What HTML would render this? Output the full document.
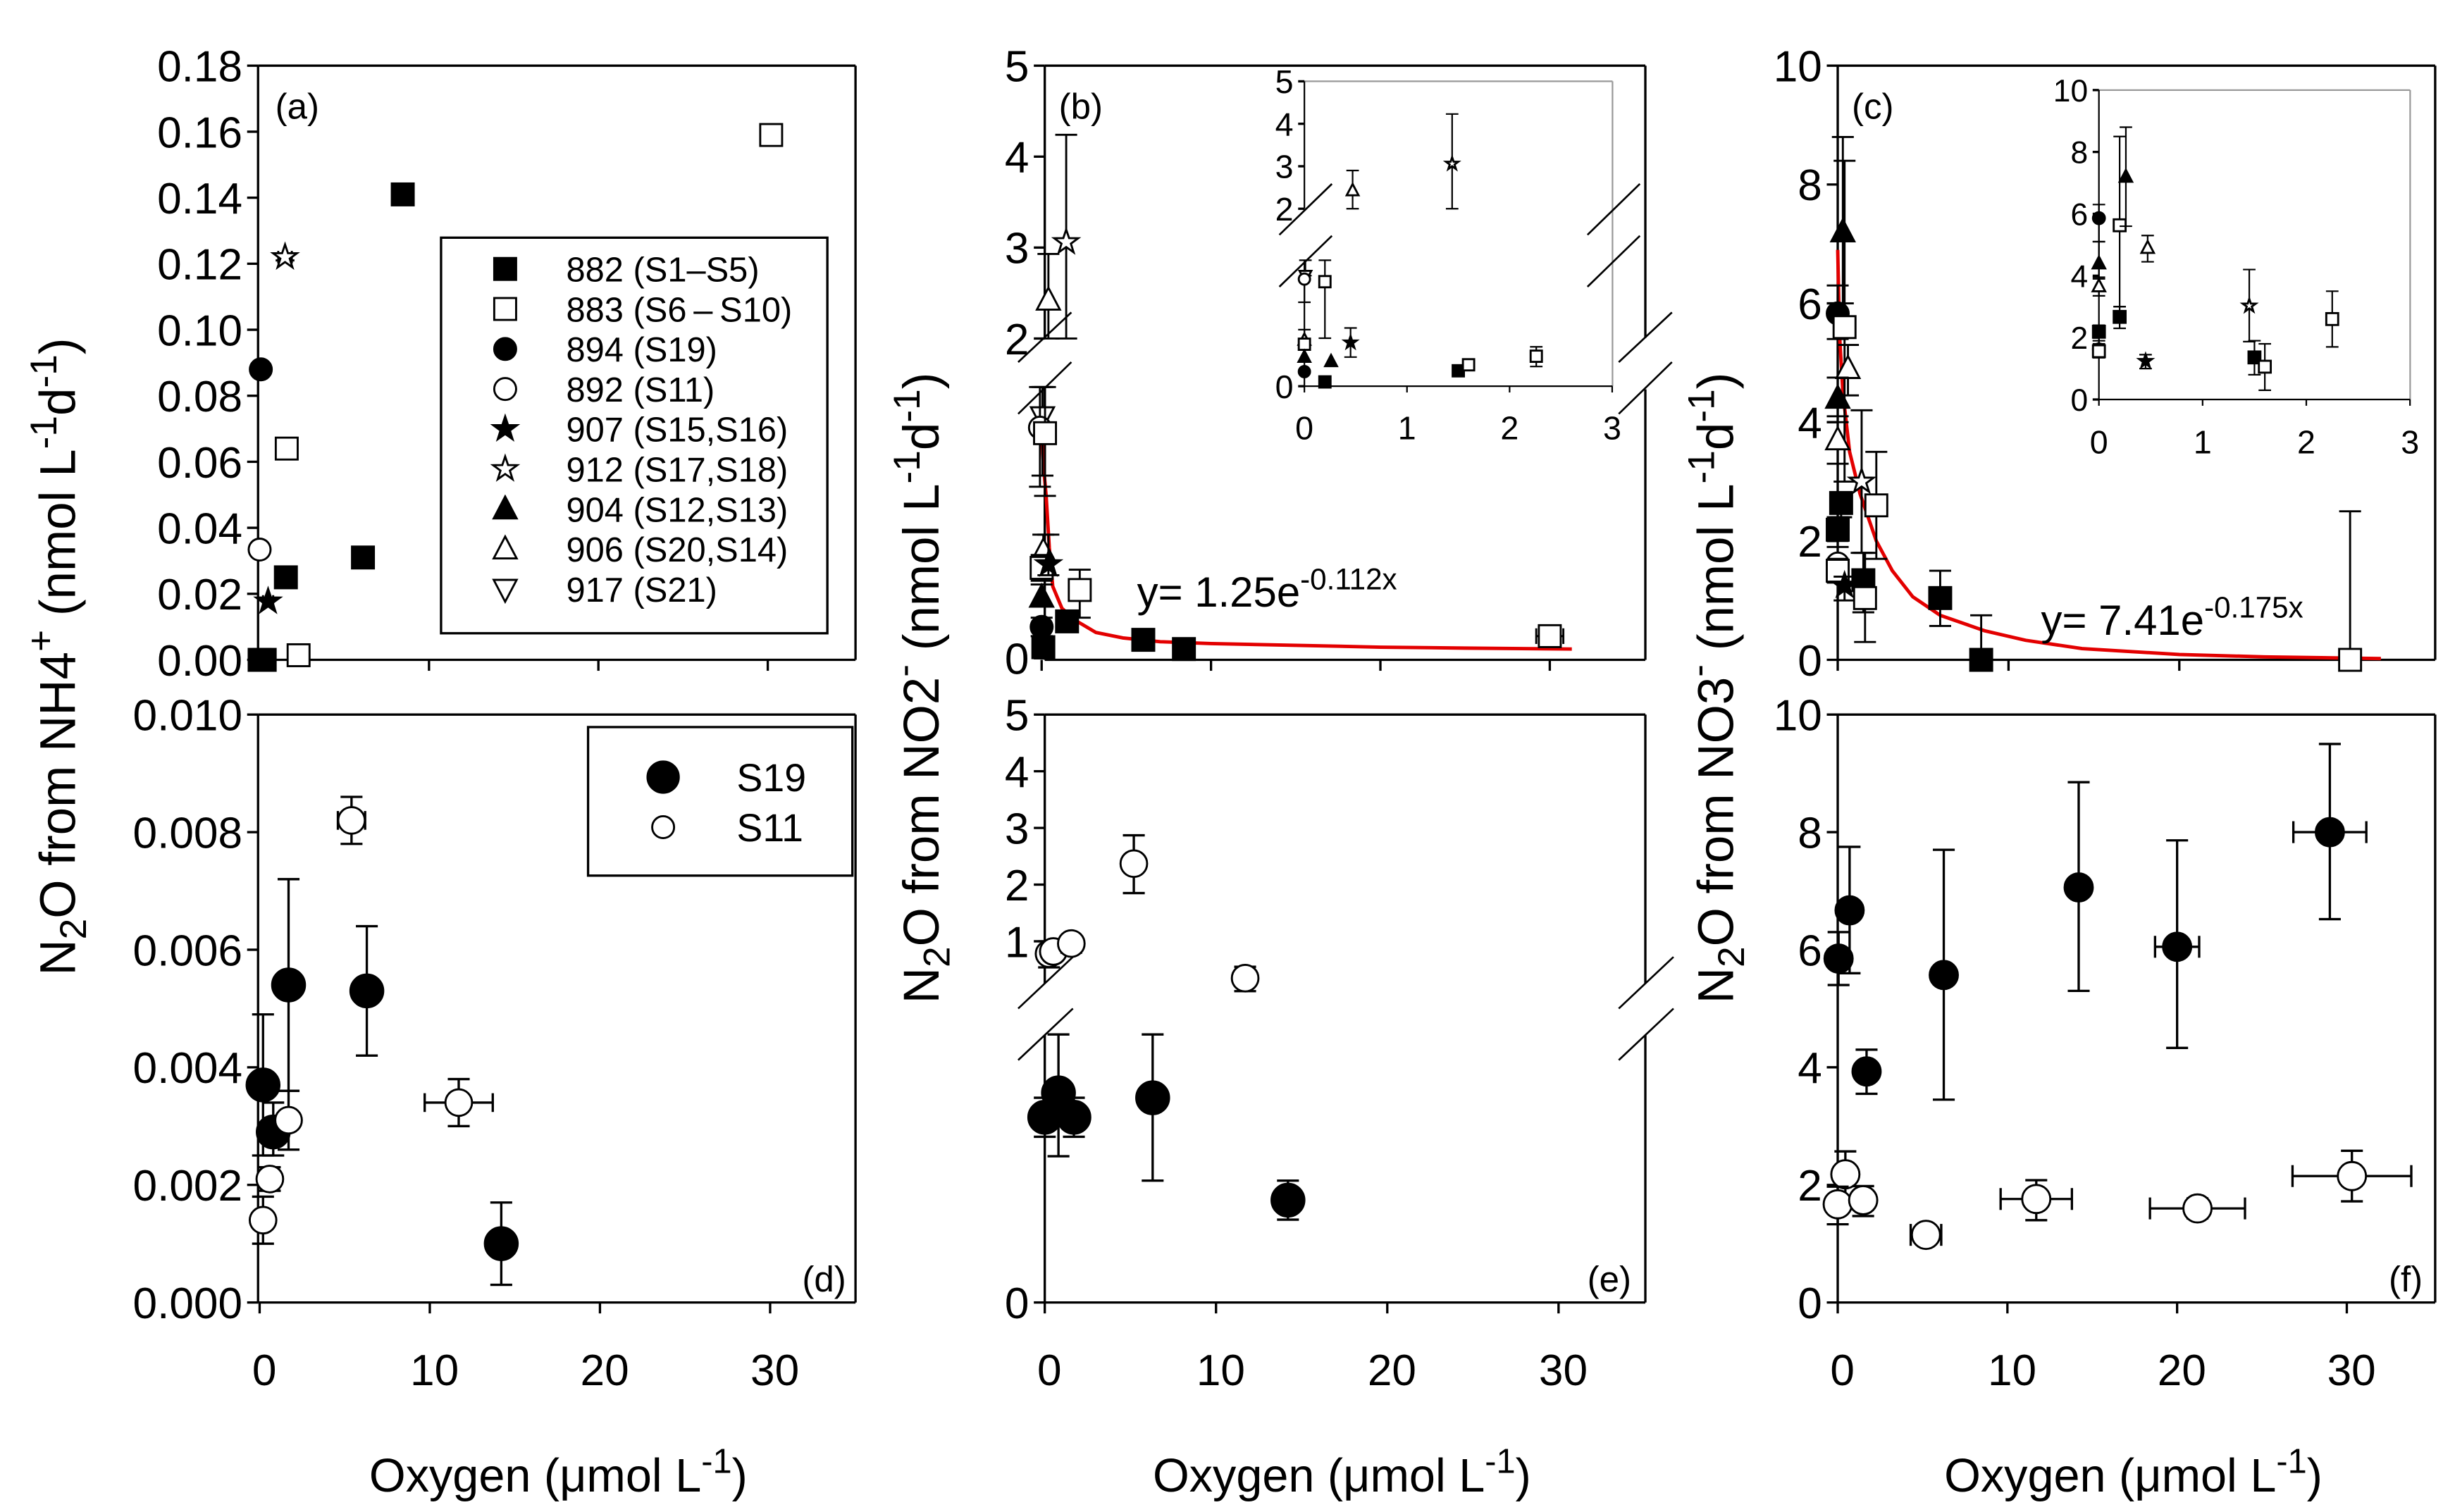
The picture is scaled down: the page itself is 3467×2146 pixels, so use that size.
<!DOCTYPE html>
<html><head><meta charset="utf-8">
<style>
html,body{margin:0;padding:0;background:#fff;}
svg{display:block;}
text{font-family:"Liberation Sans",Arial,sans-serif;fill:#000;}
</style></head>
<body>
<svg id="fig" xmlns="http://www.w3.org/2000/svg" width="3467" height="2146" viewBox="0 0 1562 967" preserveAspectRatio="none">
<rect x="0" y="0" width="1562" height="967" fill="#fff"/>
</svg>
<script>
// ---------- DATA ----------
const symSeries = ['882','883','894','892','907','912','904','906','917','S19','S11'];
const symKinds  = ['sq','sqo','ci','cio','st','sto','tr','tro','trdo','ci','cio'];
const legendLabels = ['882 (S1\u2013S5)','883 (S6\u2009\u2013\u2009S10)','894 (S19)','892 (S11)','907 (S15,S16)','912 (S17,S18)','904 (S12,S13)','906 (S20,S14)','917 (S21)'];

// panel a
const aSer=['882','882','882','882','882','883','883','883','894','892','907','912'];
const aX=[0,0.3,1.55,6.1,8.45,2.3,1.6,30.2,0.07,0,0.5,1.5];
const aY=[0,0,0.025,0.031,0.141,0.0014,0.064,0.159,0.088,0.0334,0.0177,0.122];
const aEy=[0,0,0,0,0,0.001,0.001,0.0015,0.001,0.001,0,0.001];
const aEx=[0,0,0,0,0,0.4,0.4,0.5,0.4,0.4,0.3,0.4];
const aYTicks=[0,0.02,0.04,0.06,0.08,0.10,0.12,0.14,0.16,0.18];
const aYLabels=['0.00','0.02','0.04','0.06','0.08','0.10','0.12','0.14','0.16','0.18'];
const xTicks=[0,10,20,30];

// panel b (main)
const bSer=['906','912','917','892','883','906','883','907','904','894','882','882','883','882','882','883'];
const bX=[0.4,1.45,0.05,-0.1,0.2,0.1,0,0.4,0,0,0.1,1.5,2.25,6.0,8.4,30];
const bY=[2.42,3.06,1.31,1.25,1.22,0.58,0.49,0.51,0.33,0.17,0.06,0.2,0.37,0.10,0.05,0.12];
const bHi=[2.93,4.24,1.47,1.47,1.47,0.67,0.56,0.67,0.40,0.22,0.06,0.25,0.48,0.10,0.05,0.14];
const bLo=[2.0,2.0,0.99,0.93,0.88,0.48,0.42,0.45,0.28,0.12,0.06,0.16,0.22,0.10,0.05,0.10];
const bEx=[0,0,0,0,0,0,0,0,0,0,0,0,0,0,0,0.8];
const bCurveX=[0,0.1,0.27,0.45,0.66,1.2,2.1,3.2,4.8,7,10,15,20,25,31.3];
const bCurveY=[1.25,1.05,0.88,0.6,0.39,0.27,0.2,0.14,0.11,0.09,0.08,0.07,0.06,0.055,0.05];
const bUpTicks=[2,3,4,5];

// panel b inset
const biSer=['906','912','917','892','883','906','883','904','894','904','907','882','882','883','883'];
const biX=[0.47,1.44,0.01,0,0.2,0,0,0,0,0.26,0.45,0.2,1.5,1.6,2.26];
const biY=[2.43,3.06,1.29,1.25,1.22,0.54,0.49,0.34,0.17,0.29,0.51,0.05,0.18,0.25,0.35];
const biHi=[2.9,4.23,1.47,1.25,1.47,0.66,0.49,0.34,0.17,0.29,0.68,0.05,0.18,0.29,0.46];
const biLo=[2.0,2.0,1.29,0.98,0.56,0.45,0.49,0.34,0.17,0.29,0.34,0.05,0.18,0.21,0.23];
const biUpTicks=[2,3,4,5];
const insetXTicks=[0,1,2,3];

// panel c (main)
const cSer=['904','894','883','906','904','906','912','883','882','882','892','883','907','882','883','882','882','883'];
const cX=[0.3,0,0.4,0.6,0,0,1.4,2.26,0.2,0,0,0,0.4,1.5,1.6,6.0,8.4,30];
const cY=[7.2,5.83,5.6,4.9,4.4,3.7,3.0,2.6,2.64,2.19,1.62,1.5,1.25,1.34,1.04,1.04,0,0];
const cHi=[8.8,6.3,8.4,5.3,4.75,4.0,4.2,3.5,2.8,2.4,1.9,1.7,1.4,1.8,1.8,1.5,0.75,2.5];
const cLo=[6.0,5.4,3.0,4.45,4.1,3.3,1.8,1.7,2.4,2.0,1.4,1.3,1.0,0.8,0.3,0.57,0,0];
const cCurveX=[0,0.1,0.3,0.7,1.3,2.26,3.2,4.4,6,8.6,11,14.3,20,25,31.8];
const cCurveY=[6.9,5.5,4.5,3.5,2.8,2.0,1.5,1.06,0.75,0.49,0.33,0.19,0.09,0.05,0.02];
const cYTicks=[0,2,4,6,8,10];

// panel c inset
const ciSer=['894','883','904','906','904','906','882','892','883','882','907','912','882','883','883'];
const ciX=[0,0.2,0.26,0.47,0,0,0,0,0,0.2,0.45,1.45,1.5,1.6,2.25];
const ciY=[5.86,5.63,7.2,4.9,4.4,3.66,2.19,1.62,1.56,2.67,1.24,3.03,1.36,1.06,2.6];
const ciHi=[6.3,8.5,8.8,5.3,5.1,3.95,2.4,1.9,1.8,3.0,1.45,4.2,1.9,1.8,3.5];
const ciLo=[5.1,3.0,5.6,4.45,3.9,3.35,1.9,1.4,1.35,2.3,1.0,1.87,0.8,0.3,1.7];

// panel d
const dSer=['S19','S19','S19','S19','S19','S11','S11','S11','S11','S11'];
const dX=[0.2,0.8,1.7,6.3,14.2,0.2,0.6,1.7,5.4,11.7];
const dY=[0.0037,0.0029,0.0054,0.0053,0.0010,0.0014,0.0021,0.0031,0.0082,0.0034];
const dHi=[0.0049,0.0034,0.0072,0.0064,0.0017,0.0018,0.0023,0.0036,0.0086,0.0038];
const dLo=[0.0025,0.0025,0.0036,0.0042,0.0003,0.0010,0.0019,0.0026,0.0078,0.0030];
const dEx=[0,0,0,0,0,0.3,0.5,0,0.8,2.0];
const dYTicks=[0,0.002,0.004,0.006,0.008,0.010];
const dYLabels=['0.000','0.002','0.004','0.006','0.008','0.010'];

// panel e
const eSer=['S19','S19','S19','S19','S19','S11','S11','S11','S11','S11'];
const eX=[0,0.8,1.7,6.3,14.2,0.25,0.5,1.55,5.2,11.7];
const eY=[0.38,0.43,0.38,0.42,0.21,0.78,0.82,0.96,2.37,0.35];
const eHi=[0.42,0.55,0.42,0.55,0.25,1.0,0.9,1.05,2.87,0.55];
const eLo=[0.34,0.30,0.34,0.25,0.17,0.54,0.7,0.8,1.85,0.12];
const eEx=[0,0,0,0,0,0.5,0.3,0.5,0,0.5];
const eUpTicks=[1,2,3,4,5];

// panel f
const fSer=['S19','S19','S19','S19','S19','S19','S19','S11','S11','S11','S11','S11','S11','S11'];
const fX=[0.05,0.7,1.7,6.25,14.2,20.0,29.0,0.45,0,1.5,5.2,11.7,21.2,30.3];
const fY=[5.85,6.67,3.93,5.57,7.06,6.05,8.0,2.18,1.67,1.74,1.15,1.76,1.6,2.15];
const fHi=[6.3,7.75,4.3,7.7,8.85,7.86,9.5,2.57,1.97,1.98,1.2,2.08,1.77,2.58];
const fLo=[5.4,5.6,3.55,3.45,5.3,4.33,6.52,1.8,1.33,1.47,1.1,1.4,1.43,1.72];
const fEx=[0,0,0,0,0,1.3,2.15,0,0.4,0.3,0.9,2.1,2.8,3.5];

// ---------- HELPERS ----------
const NS='http://www.w3.org/2000/svg';
const svg=document.getElementById('fig');
const TICK=28, XTL=28;
function mk(tag,parent){const e=document.createElementNS(NS,tag);parent.appendChild(e);return e;}
function setA(e,o){for(const k in o)e.setAttribute(k,o[k]);return e;}
function lin(d0,d1,r0,r1){return v=>r0+(v-d0)*(r1-r0)/(d1-d0);}
function line(p,x1,y1,x2,y2,w){return setA(mk('line',p),{x1:x1,y1:y1,x2:x2,y2:y2,stroke:'#000','stroke-width':w||1.5});}
function txt(p,x,y,s,size,anchor){const t=setA(mk('text',p),{x:x,y:y,'font-size':size,'text-anchor':anchor||'start'});t.textContent=s;return t;}
function symOf(ser){return symKinds[symSeries.indexOf(ser)];}
function marker(p,kind,cx,cy,s){
  let e;const fill=kind.endsWith('o')?'#fff':'#000';const base=kind.replace(/o$/,'');
  if(base==='sq'){e=setA(mk('rect',p),{x:cx-s,y:cy-s,width:2*s,height:2*s});}
  else if(base==='ci'){e=setA(mk('circle',p),{cx:cx,cy:cy,r:s});}
  else if(base==='st'){let pts=[];for(let i=0;i<10;i++){const r=i%2?s*0.45:s*1.15;const a=-Math.PI/2+i*Math.PI/5;pts.push((cx+r*Math.cos(a)).toFixed(2)+','+(cy+r*Math.sin(a)).toFixed(2));}e=setA(mk('polygon',p),{points:pts.join(' ')});}
  else if(base==='tr'){e=setA(mk('polygon',p),{points:`${cx},${cy-s*1.15} ${cx-s*1.05},${cy+s*0.85} ${cx+s*1.05},${cy+s*0.85}`});}
  else if(base==='trd'){e=setA(mk('polygon',p),{points:`${cx},${cy+s*1.15} ${cx-s*1.05},${cy-s*0.85} ${cx+s*1.05},${cy-s*0.85}`});}
  setA(e,{fill:fill,stroke:'#000','stroke-width':1.3});
  return e;
}
function errV(p,x,y1,y2,cap,w){if(Math.abs(y1-y2)<0.5)return;line(p,x,y1,x,y2,w);line(p,x-cap,y1,x+cap,y1,w);line(p,x-cap,y2,x+cap,y2,w);}
function errH(p,x1,x2,y,cap,w){if(Math.abs(x1-x2)<0.5)return;line(p,x1,y,x2,y,w);line(p,x1,y-cap,x1,y+cap,w);line(p,x2,y-cap,x2,y+cap,w);}
function frame(p,l,t,r,b,gapL,gapR){
  line(p,l,t,r,t);line(p,l,b,r,b);
  if(gapL){line(p,l,t,l,gapL[0]);line(p,l,gapL[1],l,b);}else line(p,l,t,l,b);
  if(gapR){line(p,r,t,r,gapR[0]);line(p,r,gapR[1],r,b);}else line(p,r,t,r,b);
}
function yTicks(p,x,vals,labels,sy,size,len,dx){vals.forEach((v,i)=>{const y=sy(v);line(p,x-len,y,x,y);txt(p,x-len-dx,y+size*0.36,labels[i],size,'end');});}
function xTicksF(p,y,vals,sx,len){vals.forEach(v=>{line(p,sx(v),y,sx(v),y+len);});}
function xLabels(p,y,vals,sx,size){vals.forEach(v=>{txt(p,sx(v)+3,y,String(v),size,'middle');});}
function slash(p,x1,y1,x2,y2){line(p,x1,y1,x2,y2,1.2);}

// ================= PANEL A =================
const gA=mk('g',svg);


const axA={l:165,t:42,r:547,b:422};
const sxA=lin(0,10,166,274.3), syA=lin(0,0.18,422,42);
frame(gA,axA.l,axA.t,axA.r,axA.b);
yTicks(gA,axA.l,aYTicks,aYLabels,syA,TICK,7,3);
xTicksF(gA,axA.b,xTicks,sxA,7);
txt(gA,176,76,'(a)',23);
aX.forEach((x,i)=>{
  const cx=sxA(x),cy=syA(aY[i]);
  if(aEx[i])errH(gA,sxA(x-aEx[i]),sxA(x+aEx[i]),cy,4,1.3);
  if(aEy[i])errV(gA,cx,syA(aY[i]+aEy[i]),syA(aY[i]-aEy[i]),6,1.3);
  const m=marker(gA,symOf(aSer[i]),cx,cy,7);
  
  
});
const lgA=mk('g',gA);


setA(mk('rect',lgA),{x:282,y:152,width:247,height:253,fill:'#fff',stroke:'#000','stroke-width':1.5});
legendLabels.forEach((lab,i)=>{
  const y=172+i*25.6;
  const m=marker(lgA,symKinds[i],323,y,7);
  
  
  const t=txt(lgA,362,y+8,lab,22);
  
  
});

// ================= PANEL B =================
const gB=mk('g',svg);


const axB={l:668,t:42,r:1052,b:422};
const sxB=lin(0,10,666,774.3);
const syBup=lin(2,5,216.5,42), syBlo=lin(0,1.25,421,273.5);
function syB(v){return v>=1.75?syBup(v):syBlo(Math.min(v,1.47));}
frame(gB,axB.l,axB.t,axB.r,axB.b,[216,249],[216,249]);
yTicks(gB,axB.l,bUpTicks,bUpTicks.map(String),syBup,TICK,7,3);
yTicks(gB,axB.l,[0],['0'],syBlo,TICK,7,3);
xTicksF(gB,axB.b,xTicks,sxB,7);
slash(gB,651,231.6,685,199.8);slash(gB,651,264.7,685,231.6);
slash(gB,1035,231.6,1069,199.8);slash(gB,1035,264.7,1069,231.6);
txt(gB,677,76,'(b)',23);
const cvB=mk('polyline',gB);
setA(cvB,{points:bCurveX.map((x,i)=>sxB(x).toFixed(1)+','+syBlo(bCurveY[i]).toFixed(1)).join(' '),fill:'none',stroke:'#e30000','stroke-width':2.2});


bX.forEach((x,i)=>{
  const cx=sxB(x),cy=syB(bY[i]);
  if(bEx[i])errH(gB,sxB(x-bEx[i]),sxB(x+bEx[i]),cy,5,1.3);
  errV(gB,cx,syB(bHi[i]),syB(bLo[i]),7,1.3);
  const m=marker(gB,symOf(bSer[i]),cx,cy,7);
  
  
});
const eqB=txt(gB,727,388,'y= 1.25e',27);


setA(mk('tspan',eqB),{dy:-11,'font-size':19}).textContent='-0.112x';
const gBi=mk('g',gB);


const sxBi=lin(0,1,834,899.6);
const syBiUp=lin(2,5,133.5,52), syBiLo=lin(0,1,247,192.2);
function syBi(v){return v>=1.75?syBiUp(v):syBiLo(Math.min(v,1.47));}
setA(mk('line',gBi),{x1:834,y1:52,x2:1031,y2:52,stroke:'#999','stroke-width':1});
setA(mk('line',gBi),{x1:1031,y1:52,x2:1031,y2:247,stroke:'#999','stroke-width':1});
line(gBi,834,52,834,133.5,1);line(gBi,834,166.6,834,247,1);line(gBi,834,247,1031,247,1);
yTicks(gBi,834,biUpTicks,biUpTicks.map(String),syBiUp,21,4,3);
yTicks(gBi,834,[0],['0'],syBiLo,21,4,3);
insetXTicks.forEach(v=>{line(gBi,sxBi(v),247,sxBi(v),251,1);txt(gBi,sxBi(v),281,String(v),21,'middle');});
slash(gBi,818,150.2,851.6,117.6);slash(gBi,818,183.4,851.6,150.8);
slash(gBi,1015,150.2,1048.5,117.6);slash(gBi,1015,183.4,1048.5,150.8);
biX.forEach((x,i)=>{
  const cx=sxBi(x),cy=syBi(biY[i]);
  errV(gBi,cx,syBi(biHi[i]),syBi(biLo[i]),4,1);
  const m=marker(gBi,symOf(biSer[i]),cx,cy,3.6);
  
  
});

// ================= PANEL C =================
const gC=mk('g',svg);


const axC={l:1175,t:42,r:1557,b:422};
const sxC=lin(0,10,1175,1284.2), syC=lin(0,10,422,42);
frame(gC,axC.l,axC.t,axC.r,axC.b);
yTicks(gC,axC.l,cYTicks,cYTicks.map(String),syC,TICK,7,3);
xTicksF(gC,axC.b,xTicks,sxC,7);
txt(gC,1184,76,'(c)',23);
const cvC=mk('polyline',gC);
setA(cvC,{points:cCurveX.map((x,i)=>sxC(x).toFixed(1)+','+syC(cCurveY[i]).toFixed(1)).join(' '),fill:'none',stroke:'#e30000','stroke-width':2.2});


cX.forEach((x,i)=>{
  const cx=sxC(x),cy=syC(cY[i]);
  errV(gC,cx,syC(cHi[i]),syC(cLo[i]),7,1.3);
  const m=marker(gC,symOf(cSer[i]),cx,cy,7);
  
  
});
const eqC=txt(gC,1305,406,'y= 7.41e',27);


setA(mk('tspan',eqC),{dy:-11,'font-size':19}).textContent='-0.175x';
const gCi=mk('g',gC);


const sxCi=lin(0,1,1342,1408.3), syCi=lin(0,10,255.5,57.6);
setA(mk('line',gCi),{x1:1342,y1:57.6,x2:1541,y2:57.6,stroke:'#999','stroke-width':1});
setA(mk('line',gCi),{x1:1541,y1:57.6,x2:1541,y2:255.5,stroke:'#999','stroke-width':1});
line(gCi,1342,57.6,1342,255.5,1);line(gCi,1342,255.5,1541,255.5,1);
yTicks(gCi,1342,cYTicks,cYTicks.map(String),syCi,20,4,3);
insetXTicks.forEach(v=>{line(gCi,sxCi(v),255.5,sxCi(v),259.5,1);txt(gCi,sxCi(v),290,String(v),21,'middle');});
ciX.forEach((x,i)=>{
  const cx=sxCi(x),cy=syCi(ciY[i]);
  errV(gCi,cx,syCi(ciHi[i]),syCi(ciLo[i]),4,1);
  const m=marker(gCi,symOf(ciSer[i]),cx,cy,3.8);
  
  
});

// ================= PANEL D =================
const gD=mk('g',svg);


const axD={l:165,t:457,r:547,b:833};
const sxD=lin(0,10,166,274.8), syD=lin(0,0.01,833,457);
frame(gD,axD.l,axD.t,axD.r,axD.b);
yTicks(gD,axD.l,dYTicks,dYLabels,syD,TICK,7,3);
xTicksF(gD,axD.b,xTicks,sxD,7);
xLabels(gD,886,xTicks,sxD,XTL);
txt(gD,541,826,'(d)',23,'end');
dX.forEach((x,i)=>{
  const cx=sxD(x),cy=syD(dY[i]);
  if(dEx[i])errH(gD,sxD(x-dEx[i]),sxD(x+dEx[i]),cy,6,1.5);
  errV(gD,cx,syD(dHi[i]),syD(dLo[i]),7,1.5);
  const m=marker(gD,symOf(dSer[i]),cx,cy,dSer[i]==='S19'?10.5:8.5);
  
  
});
const lgD=mk('g',gD);


setA(mk('rect',lgD),{x:376,y:465,width:169,height:95,fill:'#fff',stroke:'#000','stroke-width':1.5});
['S19','S11'].forEach((s,i)=>{
  const y=497+i*32;
  marker(lgD,symOf(s),424,y,i?7:10);
  const t=txt(lgD,471,y+9,s,25);
  
  
});

// ================= PANEL E =================
const gE=mk('g',svg);


const axE={l:668,t:457,r:1052,b:833};
const sxE=lin(0,10,668,777.5);
const syEup=lin(1,5,602,457), syElo=lin(0,1,833,521.3);
function syE(ser,v){return ser==='S11'?syEup(v):syElo(v);}
frame(gE,axE.l,axE.t,axE.r,axE.b,[629,662],[629,662]);
yTicks(gE,axE.l,eUpTicks,eUpTicks.map(String),syEup,TICK,7,3);
yTicks(gE,axE.l,[0],['0'],syElo,TICK,7,3);
xTicksF(gE,axE.b,xTicks,sxE,7);
xLabels(gE,886,xTicks,sxE,XTL);
slash(gE,651,645,686,612);slash(gE,651,678,686,645);
slash(gE,1035,645,1070,612);slash(gE,1035,678,1070,645);
txt(gE,1043,826,'(e)',23,'end');
eX.forEach((x,i)=>{
  const cx=sxE(x),cy=syE(eSer[i],eY[i]);
  if(eEx[i])errH(gE,sxE(x-eEx[i]),sxE(x+eEx[i]),cy,5,1.5);
  errV(gE,cx,syE(eSer[i],eHi[i]),syE(eSer[i],eLo[i]),7,1.5);
  const m=marker(gE,symOf(eSer[i]),cx,cy,eSer[i]==='S19'?10.5:8.5);
  
  
});

// ================= PANEL F =================
const gF=mk('g',svg);


const axF={l:1175,t:457,r:1557,b:833};
const sxF=lin(0,10,1175,1283.5), syF=lin(0,10,833,457);
frame(gF,axF.l,axF.t,axF.r,axF.b);
yTicks(gF,axF.l,cYTicks,cYTicks.map(String),syF,TICK,7,3);
xTicksF(gF,axF.b,xTicks,sxF,7);
xLabels(gF,886,xTicks,sxF,XTL);
txt(gF,1549,826,'(f)',23,'end');
fX.forEach((x,i)=>{
  const cx=sxF(x),cy=syF(fY[i]);
  if(fEx[i])errH(gF,sxF(x-fEx[i]),sxF(x+fEx[i]),cy,7,1.5);
  errV(gF,cx,syF(fHi[i]),syF(fLo[i]),7,1.5);
  const m=marker(gF,symOf(fSer[i]),cx,cy,9);
  
  
});

// ================= AXIS TITLES =================
function yTitle(cx,cy,ion,charge){
  const t=setA(mk('text',svg),{x:0,y:0,'font-size':32,'text-anchor':'middle',transform:`translate(${cx},${cy}) rotate(-90)`});
  t.appendChild(document.createTextNode('N'));
  setA(mk('tspan',t),{dy:7,'font-size':24}).textContent='2';
  setA(mk('tspan',t),{dy:-7}).textContent='O from '+ion;
  setA(mk('tspan',t),{dy:-14,'font-size':24}).textContent=charge;
  setA(mk('tspan',t),{dy:14}).textContent=' (nmol L';
  setA(mk('tspan',t),{dy:-12,'font-size':24}).textContent='-1';
  setA(mk('tspan',t),{dy:12}).textContent='d';
  setA(mk('tspan',t),{dy:-12,'font-size':24}).textContent='-1';
  setA(mk('tspan',t),{dy:12}).textContent=')';
  return t;
}
const ytA=yTitle(48,420,'NH4','+');


const ytB=yTitle(600,440,'NO2','-');


const ytC=yTitle(1108,440,'NO3','-');



[357,858,1364].forEach((cx,i)=>{
  const t=setA(mk('text',svg),{x:cx,y:954,'font-size':30,'text-anchor':'middle'});
  
  
  t.appendChild(document.createTextNode('Oxygen (\u03BCmol L'));
  setA(mk('tspan',t),{dy:-12,'font-size':22}).textContent='-1';
  setA(mk('tspan',t),{dy:12}).textContent=')';
});
</script>
</body></html>
